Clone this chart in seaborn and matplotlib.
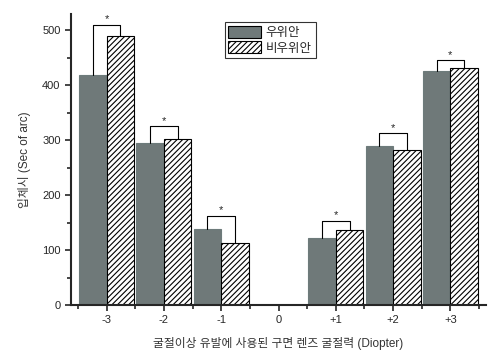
import numpy as np
import pandas as pd
import matplotlib
matplotlib.use('Agg')
import matplotlib.pyplot as plt
import seaborn as sns
from matplotlib.ticker import MultipleLocator

sns.set_style('ticks')
plt.rcParams['font.family'] = ['Liberation Sans', 'Noto Sans CJK KR']
plt.rcParams['hatch.linewidth'] = 0.8

# data
diopters = ['-3', '-2', '-1', '0', '+1', '+2', '+3']
dominant = [419, 294, 139, np.nan, 121, 289, 425]      # 우위안
nondominant = [490, 301, 113, np.nan, 136, 282, 431]   # 비우위안
bracket_top = [510, 325, 162, np.nan, 153, 312, 445]
groups = ['우위안', '비우위안']

df = pd.DataFrame({
    'diopter': diopters * 2,
    'group': [groups[0]] * 7 + [groups[1]] * 7,
    'value': dominant + nondominant,
})

fig = plt.figure(figsize=(5, 3.61), dpi=100)
ax = fig.add_axes([0.142, 0.155, 0.83, 0.806])

sns.barplot(data=df, x='diopter', y='value', hue='group', order=diopters,
            hue_order=groups, width=0.96, gap=0, errorbar=None,
            palette=['#6d7b7b', 'white'], edgecolor='black', linewidth=0.8,
            ax=ax)

for bar in ax.containers[0]:
    bar.set_edgecolor('#6d7b7b')
for bar in ax.containers[1]:
    bar.set_hatch('//////')
    bar.set_edgecolor('black')

# significance brackets
for i, top in enumerate(bracket_top):
    if np.isnan(top):
        continue
    x1, x2 = i - 0.24, i + 0.24
    ax.plot([x1, x1, x2, x2], [dominant[i], top, top, nondominant[i]],
            color='black', lw=0.8)
    ax.text(i, top + 1, '*', ha='center', va='bottom', fontsize=8)

ax.set_xlim(-0.62, 6.62)
ax.set_ylim(0, 529)
ax.yaxis.set_major_locator(MultipleLocator(100))
ax.yaxis.set_minor_locator(MultipleLocator(50))
ax.xaxis.set_minor_locator(MultipleLocator(0.5))
ax.tick_params(which='major', length=4, width=1.2, labelsize=8, direction='out')
ax.tick_params(which='minor', length=3, width=1.2, direction='out')
for s in ['left', 'bottom']:
    ax.spines[s].set_linewidth(1.5)
sns.despine(ax=ax)

ax.set_xlabel('굴절이상 유발에 사용된 구면 렌즈 굴절력 (Diopter)', fontsize=8.5,
              color='#333333', labelpad=8)
ax.set_ylabel('입체시 (Sec of arc)', fontsize=8.5, color='#333333', labelpad=8)

leg = ax.legend(loc='upper left', bbox_to_anchor=(0.355, 0.995), fontsize=9,
                frameon=True, fancybox=False, edgecolor='black',
                handlelength=2.6, handleheight=1.1, borderpad=0.3,
                labelspacing=0.2, handletextpad=0.4)
leg.get_frame().set_linewidth(0.8)
leg.legend_handles[1].set_hatch('//////')

fig.savefig('out.png', dpi=100)
